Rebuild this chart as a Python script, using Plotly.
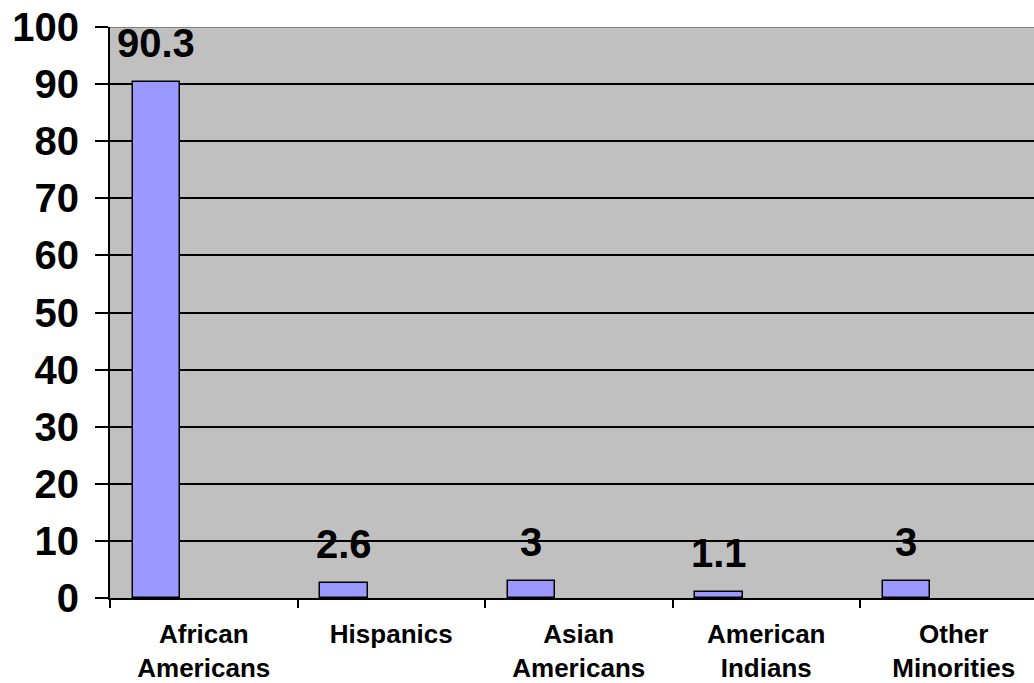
import plotly.graph_objects as go

categories = ["African<br>Americans", "Hispanics", "Asian<br>Americans", "American<br>Indians", "Other<br>Minorities"]
values = [90.3, 2.6, 3, 1.1, 3]
value_labels = ["90.3", "2.6", "3", "1.1", "3"]
y_ticks = [0, 10, 20, 30, 40, 50, 60, 70, 80, 90, 100]

FONT = "Liberation Sans, Arial, sans-serif"
BAR_OFFSET = -0.38
BAR_WIDTH = 0.255

fig = go.Figure()
fig.add_trace(go.Bar(
    x=categories, y=values,
    width=BAR_WIDTH, offset=BAR_OFFSET,
    marker=dict(color="#9999FF", line=dict(color="black", width=1.5)),
    hoverinfo="skip",
))

for i, (v, t) in enumerate(zip(values, value_labels)):
    fig.add_annotation(
        x=i + BAR_OFFSET + BAR_WIDTH / 2, y=v, text=t, showarrow=False,
        xanchor="center", yanchor="bottom", yshift=15,
        font=dict(family=FONT, size=40, color="black", weight="bold"),
    )

# top plot-area border (gray)
fig.add_shape(type="line", xref="paper", yref="y", x0=0, x1=1, y0=100, y1=100,
              line=dict(color="#808080", width=2), layer="above")

W, H = 1034, 683
L, T, B = 110, 27, 82
slot_px = 187.5
plot_w = W - L
fig.update_layout(
    width=W, height=H,
    margin=dict(l=L, r=0, t=T, b=B, pad=0),
    paper_bgcolor="white", plot_bgcolor="#C0C0C0",
    showlegend=False,
    bargap=0,
    xaxis=dict(
        type="category",
        range=[-0.5, -0.5 + plot_w / slot_px],
        showgrid=False, zeroline=False,
        showline=True, linecolor="black", linewidth=2,
        ticks="outside", ticklen=8, tickwidth=2, tickcolor="black",
        tickson="boundaries",
        tickfont=dict(family=FONT, size=26, color="black", weight="bold"),
        ticklabelstandoff=12,
    ),
    yaxis=dict(
        range=[0, 100], tickmode="array", tickvals=y_ticks,
        showgrid=True, gridcolor="black", gridwidth=1.5,
        zeroline=False,
        showline=True, linecolor="black", linewidth=2,
        ticks="outside", ticklen=13, tickwidth=2, tickcolor="black",
        tickfont=dict(family=FONT, size=40, color="black", weight="bold"),
        ticklabelstandoff=8,
    ),
)

fig.write_html("out.html")
